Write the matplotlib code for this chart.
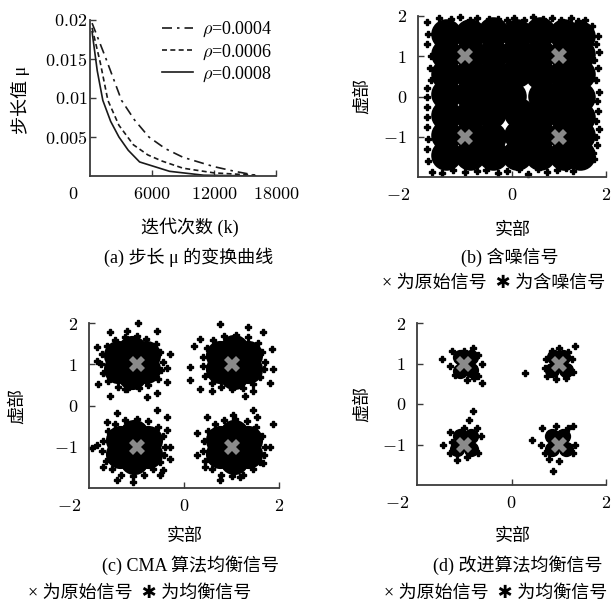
import matplotlib
matplotlib.use("Agg")
import matplotlib.pyplot as plt
import matplotlib.transforms as mtransforms

plt.rcParams['font.family'] = ['Liberation Serif', 'Noto Sans CJK SC', 'DejaVu Sans']
plt.rcParams['mathtext.fontset'] = 'cm'

# ---------------- data: panel (a) ----------------
rho_labels = [r'$\rho$=0.0004', r'$\rho$=0.0006', r'$\rho$=0.0008']
k_04 = [200, 1500, 3050, 4300, 5700, 7300, 9000, 12000, 14000, 16000]
mu_04 = [0.0196, 0.0152, 0.0097, 0.0072, 0.0050, 0.0035, 0.0024, 0.0012, 0.0006, 0.0001]
k_06 = [200, 1000, 1730, 2800, 4200, 5600, 7000, 9000, 12000, 16000]
mu_06 = [0.0190, 0.0145, 0.0097, 0.0065, 0.0040, 0.0027, 0.0019, 0.0010, 0.0004, 0.0001]
k_08 = [200, 700, 1240, 2000, 2800, 3700, 4800, 7700, 11000, 16000]
mu_08 = [0.0185, 0.0135, 0.0097, 0.0070, 0.0050, 0.0033, 0.0018, 0.0006, 0.0001, 0.0000]
a_xticks = [6000, 12000, 18000]
a_xticklabels = ['$6000$', '$12000$', '$18000$']
a_yticks = [0.005, 0.01, 0.015, 0.02]
a_yticklabels = ['$0.005$', '$0.01$', '$0.015$', '$0.02$']

# ---------------- constellation (ideal) ----------------
orig_x = [-1, 1, -1, 1]
orig_y = [1, 1, -1, -1]

# ---------------- panel (b) noisy signal ----------------
b_core = [
    (-1.40, 1.55), (-0.90, 1.55), (-0.40, 1.60), (0.10, 1.55), (0.60, 1.60), (1.10, 1.55), (1.45, 1.50),
    (-1.40, 1.05), (-0.90, 1.05), (-0.40, 1.05), (0.10, 1.10), (0.60, 1.05), (1.10, 1.05), (1.45, 1.05),
    (-1.40, 0.55), (-0.90, 0.55), (-0.40, 0.55), (0.10, 0.60), (0.60, 0.55), (1.10, 0.55), (1.45, 0.55),
    (-1.40, 0.05), (-0.90, 0.05), (-0.40, 0.10), (-0.02, 0.02), (0.65, 0.02), (1.10, 0.10), (1.45, 0.00),
    (-1.40, -0.45), (-0.90, -0.45), (-0.45, -0.40), (0.15, -0.40), (0.60, -0.45), (1.10, -0.45), (1.45, -0.50),
    (-1.40, -0.95), (-0.90, -0.95), (-0.45, -1.00), (0.15, -0.95), (0.60, -0.95), (1.10, -0.95), (1.45, -0.95),
    (-1.40, -1.45), (-0.90, -1.45), (-0.40, -1.45), (0.10, -1.45), (0.60, -1.45), (1.10, -1.45), (1.45, -1.45),
]
b_fringe = [
    (-1.80, 1.85), (-1.78, 1.55), (-1.80, 1.30), (-1.72, 0.40), (-1.80, 0.20), (-1.80, 0.00),
    (-1.80, -0.25), (-1.80, -0.50), (-1.80, -0.75), (-1.78, -1.05), (-1.80, -1.30), (-1.78, -1.60),
    (-1.70, -1.88), (-1.75, 0.70), (-1.72, 1.00),
    (-1.55, 1.95), (-1.30, 1.92), (-1.10, 1.97), (-0.90, 1.90), (-0.75, 1.95), (-0.50, 1.92),
    (-0.30, 1.93), (-0.10, 1.90), (0.05, 1.95), (0.25, 1.90), (0.45, 1.97), (0.65, 1.92),
    (0.85, 1.95), (1.05, 1.90), (1.25, 1.95), (1.40, 1.88), (1.55, 1.90), (1.70, 1.75),
    (1.82, 1.50), (1.78, 1.30), (1.85, 1.10), (1.75, 0.90), (1.82, 0.70), (1.78, 0.40),
    (1.85, 0.10), (1.80, -0.10), (1.82, -0.35), (1.78, -0.60), (1.85, -0.80), (1.78, -1.00),
    (1.80, -1.20), (1.72, -1.40), (1.75, -1.55),
    (-1.50, -1.90), (-1.25, -1.82), (-1.00, -1.88), (-0.75, -1.85), (-0.55, -1.82), (-0.30, -1.90),
    (-0.10, -1.85), (0.15, -1.80), (0.35, -1.92), (0.55, -1.80), (0.75, -1.88), (0.95, -1.82),
    (1.15, -1.78), (1.30, -1.85), (1.50, -1.70),
]

# ---------------- panel (c) CMA equalised ----------------
c_core = [
    (-1.10, 1.05), (-1.40, 1.22), (-0.80, 1.22), (-1.40, 0.88), (-0.80, 0.88), (-1.10, 1.35), (-1.10, 0.75),
    (1.05, 1.05), (0.75, 1.22), (1.35, 1.22), (0.75, 0.88), (1.35, 0.88), (1.05, 1.38), (1.05, 0.75),
    (-1.05, -1.00), (-1.35, -0.83), (-0.75, -0.83), (-1.35, -1.17), (-0.75, -1.17), (-1.05, -0.68), (-1.05, -1.32),
    (1.05, -1.00), (0.75, -0.83), (1.35, -0.83), (0.75, -1.17), (1.35, -1.17), (1.05, -0.68), (1.05, -1.32),
]
c_fringe = [
    # upper-left cluster
    (-0.45, 1.05), (-0.50, 1.30), (-0.60, 1.50), (-0.80, 1.62), (-1.00, 1.68), (-1.25, 1.66),
    (-1.45, 1.60), (-1.62, 1.45), (-1.72, 1.25), (-1.75, 1.00), (-1.70, 0.78), (-1.60, 0.60),
    (-1.40, 0.45), (-1.20, 0.40), (-0.95, 0.42), (-0.75, 0.50), (-0.55, 0.65), (-0.48, 0.85),
    (-0.97, 2.00), (-1.83, 1.41), (-1.81, 0.51), (-1.56, 0.22), (-0.78, 0.20), (-0.57, 0.31),
    (-0.29, 1.24), (-0.36, 0.56), (-1.24, 0.39), (-1.20, 1.80), (-1.56, 1.78), (-0.57, 1.80),
    (-1.84, 1.07), (-0.35, 0.90),
    # upper-right cluster
    (1.70, 1.05), (1.65, 1.30), (1.55, 1.52), (1.35, 1.65), (1.10, 1.72), (0.85, 1.68),
    (0.62, 1.58), (0.48, 1.40), (0.40, 1.18), (0.40, 0.95), (0.45, 0.72), (0.58, 0.55),
    (0.78, 0.45), (1.00, 0.40), (1.25, 0.42), (1.45, 0.52), (1.60, 0.68), (1.68, 0.88),
    (0.76, 1.98), (0.13, 0.93), (0.13, 0.63), (0.34, 0.39), (0.58, 0.34), (1.28, 0.22),
    (1.45, 0.34), (1.85, 1.37), (1.87, 0.88), (0.20, 1.44), (0.34, 1.61), (1.35, 1.90),
    (1.66, 1.78), (1.80, 0.55),
    # lower-left cluster
    (-0.40, -1.00), (-0.45, -0.75), (-0.55, -0.52), (-0.75, -0.38), (-1.00, -0.32), (-1.25, -0.35),
    (-1.45, -0.45), (-1.60, -0.62), (-1.70, -0.85), (-1.72, -1.10), (-1.65, -1.35), (-1.52, -1.55),
    (-1.32, -1.68), (-1.08, -1.72), (-0.85, -1.68), (-0.65, -1.55), (-0.50, -1.38), (-0.42, -1.20),
    (-1.94, -1.02), (-1.83, -0.95), (-1.62, -0.41), (-1.41, -0.17), (-0.57, -0.10), (-0.36, -0.27),
    (-0.29, -1.00), (-0.44, -1.56), (-0.50, -1.68), (-1.41, -1.80), (-1.07, -1.85), (-1.70, -1.49),
    (-0.36, -0.59), (-0.30, -1.30),
    # lower-right cluster
    (1.70, -1.00), (1.65, -0.75), (1.52, -0.52), (1.32, -0.38), (1.08, -0.32), (0.85, -0.35),
    (0.65, -0.45), (0.50, -0.62), (0.42, -0.85), (0.40, -1.10), (0.45, -1.35), (0.58, -1.55),
    (0.78, -1.68), (1.02, -1.72), (1.25, -1.68), (1.45, -1.55), (1.60, -1.38), (1.68, -1.20),
    (0.27, -0.66), (0.27, -1.20), (0.44, -1.49), (0.48, -0.27), (1.03, -0.22), (1.45, -0.10),
    (1.87, -0.46), (1.66, -1.39), (1.18, -1.73), (0.76, -1.80), (1.53, -0.27), (1.80, -1.00),
]

# ---------------- panel (d) improved algorithm ----------------
d_core = [
    (-1.00, 1.00), (-1.10, 0.82), (-0.85, 0.85), (-1.10, 1.15), (-0.85, 1.15),
    (1.00, 1.00), (0.85, 0.85), (1.15, 0.85), (0.90, 1.15), (1.10, 1.15),
    (-1.00, -0.95), (-1.15, -1.10), (-0.85, -1.10), (-1.10, -0.78), (-0.85, -0.78),
    (1.00, -0.95), (0.85, -1.10), (1.15, -1.10), (0.85, -0.78), (1.10, -0.78),
]
d_fringe = [
    (-1.47, 1.10), (-0.62, 0.51), (-1.25, 1.30), (-0.82, 1.38), (-0.70, 0.70), (-1.20, 0.72),
    (-0.62, 1.00), (-1.30, 0.95), (-0.95, 0.60), (-1.00, 1.30), (-0.70, 1.20), (-0.80, 0.65),
    (0.28, 0.76), (1.34, 1.44), (0.72, 1.10), (0.75, 0.70), (1.00, 1.38), (1.30, 0.80),
    (1.28, 1.10), (0.95, 0.62), (1.15, 0.65), (0.70, 0.90), (1.20, 1.28), (0.85, 1.30),
    (-0.81, -0.17), (-1.45, -1.00), (-1.15, -1.39), (-0.90, -0.40), (-1.30, -0.70), (-0.65, -0.80),
    (-0.70, -1.20), (-1.30, -1.20), (-0.95, -1.30), (-1.00, -0.60), (-0.72, -0.60), (-1.25, -0.95),
    (0.43, -0.90), (0.87, -1.65), (1.30, -0.55), (0.65, -0.60), (1.35, -1.00), (1.30, -1.20),
    (0.70, -1.20), (1.00, -1.40), (0.95, -0.55), (0.62, -1.00), (1.20, -0.60), (0.80, -1.35),
]

iq_xticks = [0, 2]
iq_xticklabels = ['$0$', '$2$']
iq_yticks = [-1, 0, 1, 2]
iq_yticklabels = ['$-1$', '$0$', '$1$', '$2$']

captions = ['(a) 步长 μ 的变换曲线', '(b) 含噪信号', '(c) CMA 算法均衡信号', '(d) 改进算法均衡信号']
legends_iq = ['× 为原始信号  ✱ 为含噪信号', '× 为原始信号  ✱ 为均衡信号', '× 为原始信号  ✱ 为均衡信号']

# ---------------- figure ----------------
W, H = 613, 604
fig = plt.figure(figsize=(W / 100, H / 100), dpi=100)
TXT = 13
TICK = 13
SP = '#3a3a3a'
FAM = ['Liberation Serif', 'Noto Sans CJK SC', 'DejaVu Sans']


def px_axes(l, t, r, b):
    return fig.add_axes([l / W, (H - b) / H, (r - l) / W, (b - t) / H])


def style(ax, ypad):
    for s in ['top', 'right']:
        ax.spines[s].set_visible(False)
    for s in ['left', 'bottom']:
        ax.spines[s].set_color(SP)
        ax.spines[s].set_linewidth(1.3)
    ax.tick_params(direction='in', length=4, width=1.0, color=SP, labelsize=TICK)
    ax.tick_params(axis='x', pad=7)
    ax.tick_params(axis='y', pad=ypad)


def fig_text(x, y, s, **kw):
    fig.text(x / W, 1 - y / H, s, ha='center', va='center', fontsize=TXT, family=FAM, **kw)


# (a)
axa = px_axes(90, 20, 276, 176)
style(axa, 2)
axa.plot(k_04, mu_04, color='#1a1a1a', lw=1.2, ls=(0, (6, 3, 1.5, 3)), label=rho_labels[0])
axa.plot(k_06, mu_06, color='#1a1a1a', lw=1.2, ls=(0, (3, 2)), label=rho_labels[1])
axa.plot(k_08, mu_08, color='#1a1a1a', lw=1.2, ls='-', label=rho_labels[2])
axa.set_xlim(0, 18000)
axa.set_ylim(0, 0.02)
axa.set_xticks(a_xticks)
axa.set_xticklabels(a_xticklabels)
axa.set_yticks(a_yticks)
axa.set_yticklabels(a_yticklabels)
axa.text(0, 0, '$0$', transform=mtransforms.blended_transform_factory(axa.transData, axa.transAxes)
         + mtransforms.ScaledTranslation(-0.12, -0.1, fig.dpi_scale_trans),
         ha='right', va='top', fontsize=TICK, clip_on=False)
axa.legend(loc='upper right', bbox_to_anchor=(1.04, 1.07), frameon=False,
           fontsize=TICK, handlelength=1.7, handletextpad=0.5, labelspacing=0.15,
           borderaxespad=0.2)
fig_text(20, 100, '步长值 μ', rotation=90)
fig_text(190, 227, '迭代次数 (k)')
fig_text(189, 257, captions[0])


def iq_panel(box, core, fringe, core_ms, ylab_x, xlab_y, cap, cap_x, cap_y, leg, leg_x, leg_y):
    ax = px_axes(*box)
    style(ax, 8)
    cx = [p[0] for p in core]
    cy = [p[1] for p in core]
    fx = [p[0] for p in fringe]
    fy = [p[1] for p in fringe]
    ax.plot(cx, cy, 'o', color='black', ms=core_ms, mew=0, clip_on=False)
    ax.plot(fx, fy, 'P', color='black', ms=5, mew=1.0, mec='black', clip_on=False)
    ax.plot(orig_x, orig_y, 'X', color='#8a8a8a', ms=11, mew=0, clip_on=False)
    ax.set_xlim(-2, 2)
    ax.set_ylim(-2, 2)
    ax.set_xticks(iq_xticks)
    ax.set_xticklabels(iq_xticklabels)
    ax.set_yticks(iq_yticks)
    ax.set_yticklabels(iq_yticklabels)
    ax.text(-2, 0, '$-2$', transform=mtransforms.blended_transform_factory(ax.transData, ax.transAxes)
            + mtransforms.ScaledTranslation(-0.08, -0.1, fig.dpi_scale_trans),
            ha='right', va='top', fontsize=TICK, clip_on=False)
    xc = (box[0] + box[2]) / 2
    yc = (box[1] + box[3]) / 2
    fig_text(ylab_x, yc, '虚部', rotation=90)
    fig_text(xc + 1, xlab_y, '实部')
    fig_text(cap_x, cap_y, cap)
    fig_text(leg_x, leg_y, leg)
    return ax


iq_panel((418, 16, 606, 177), b_core, b_fringe, 22, 362, 230, captions[1], 510, 257,
         legends_iq[0], 494, 283)
iq_panel((89, 323, 279, 488), c_core, c_fringe, 21, 17, 537, captions[2], 190, 565,
         legends_iq[1], 140, 593)
iq_panel((417, 323, 606, 485), d_core, d_fringe, 11, 362, 537, captions[3], 518, 565,
         legends_iq[2], 496, 593)

fig.savefig('out.png', dpi=100)
